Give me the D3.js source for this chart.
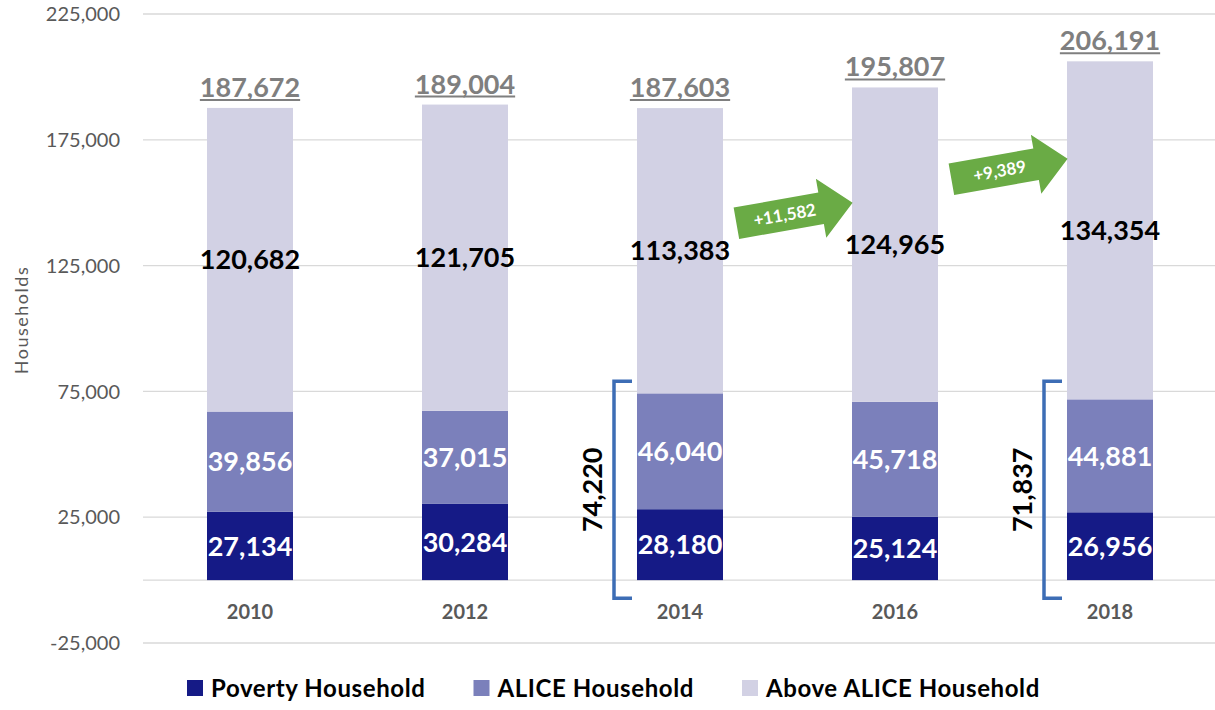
<!DOCTYPE html>
<html>
<head>
<meta charset="utf-8">
<script src="https://cdn.jsdelivr.net/npm/d3@7"></script>
<style>
  html, body { margin: 0; padding: 0; background: #fff; }
  svg { display: block; font-family: Lato, "Open Sans", sans-serif; }
</style>
</head>
<body>
<svg id="chart" width="1215" height="710"></svg>
<script>
// households by year, stacked
const years = ["2010", "2012", "2014", "2016", "2018"];
const poverty = [27134, 30284, 28180, 25124, 26956];
const alice = [39856, 37015, 46040, 45718, 44881];
const aboveAlice = [120682, 121705, 113383, 124965, 134354];
const seriesNames = ["Poverty Household", "ALICE Household", "Above ALICE Household"];
const yTicks = [-25000, 25000, 75000, 125000, 175000, 225000];

// annotations: bracketed years and growth arrows (from -> to)
const bracketYears = ["2014", "2018"];
const arrowPairs = [["2014", "2016"], ["2016", "2018"]];

const COLORS = ["#151a86", "#7b80bb", "#d2d1e4"];
const fmt = v => d3.format(",")(v).replace("\u2212", "-");

const W = 1215, H = 710;
const svg = d3.select("#chart");

const x = d3.scaleBand()
  .domain(years)
  .range([142.5, 1217.5])
  .paddingInner(0.6)
  .paddingOuter(0.3);

const y = d3.scaleLinear()
  .domain([-25000, 225000])
  .range([643, 14]);

const rows = years.map((yr, i) => ({
  year: yr,
  p: poverty[i],
  a: alice[i],
  ab: aboveAlice[i],
  total: poverty[i] + alice[i] + aboveAlice[i]
}));

// gridlines
const grid = svg.append("g");
grid.selectAll("line")
  .data(yTicks.concat([0]))
  .join("line")
  .attr("x1", 143)
  .attr("x2", W)
  .attr("y1", d => y(d))
  .attr("y2", d => y(d))
  .attr("stroke", "#d9d9d9")
  .attr("stroke-width", 1.3);

// y axis labels
svg.append("g")
  .selectAll("text")
  .data(yTicks)
  .join("text")
  .attr("x", 120)
  .attr("y", d => y(d))
  .attr("dy", "0.36em")
  .attr("text-anchor", "end")
  .attr("fill", "#595959")
  .attr("font-size", 20)
  .text(d => fmt(d));

svg.append("text")
  .attr("transform", "translate(22,320) rotate(-90)")
  .attr("text-anchor", "middle")
  .attr("dy", "0.35em")
  .attr("fill", "#595959")
  .attr("font-size", 18)
  .attr("letter-spacing", 1.5)
  .text("Households");

// stacked bars
const stack = d3.stack().keys(["p", "a", "ab"])(rows);

const layers = svg.append("g")
  .selectAll("g")
  .data(stack)
  .join("g")
  .attr("fill", (d, i) => COLORS[i]);

layers.selectAll("rect")
  .data(d => d)
  .join("rect")
  .attr("x", d => x(d.data.year))
  .attr("width", x.bandwidth())
  .attr("y", d => y(d[1]))
  .attr("height", d => y(d[0]) - y(d[1]));

// segment labels
const labelColors = ["#ffffff", "#ffffff", "#000000"];
layers.each(function (layer, li) {
  d3.select(this).selectAll("text")
    .data(layer)
    .join("text")
    .attr("x", d => x(d.data.year) + x.bandwidth() / 2)
    .attr("y", d => y((d[0] + d[1]) / 2))
    .attr("dy", "0.36em")
    .attr("text-anchor", "middle")
    .attr("font-weight", "bold")
    .attr("font-size", 27)
    .attr("fill", labelColors[li])
    .text(d => fmt(d[1] - d[0]));
});

// totals, underlined
const totals = svg.append("g")
  .selectAll("g")
  .data(rows)
  .join("g")
  .attr("transform", d => `translate(${x(d.year) + x.bandwidth() / 2},${y(d.total) - 11})`);

totals.append("text")
  .attr("text-anchor", "middle")
  .attr("font-weight", "bold")
  .attr("font-size", 27)
  .attr("fill", "#7f7f7f")
  .text(d => fmt(d.total));

totals.each(function () {
  const t = d3.select(this).select("text").node();
  const w = t.getComputedTextLength();
  d3.select(this).append("line")
    .attr("x1", -w / 2)
    .attr("x2", w / 2)
    .attr("y1", 3)
    .attr("y2", 3)
    .attr("stroke", "#7f7f7f")
    .attr("stroke-width", 2);
});

// x axis labels
svg.append("g")
  .selectAll("text")
  .data(years)
  .join("text")
  .attr("x", d => x(d) + x.bandwidth() / 2)
  .attr("y", 612)
  .attr("dy", "0.36em")
  .attr("text-anchor", "middle")
  .attr("font-weight", "bold")
  .attr("font-size", 20)
  .attr("fill", "#595959")
  .text(d => d);

// brackets around poverty + ALICE
const bTop = y(79000), bBot = y(-7200);
bracketYears.forEach(yr => {
  const r = rows.find(d => d.year === yr);
  const bx = x(yr) - 23;
  svg.append("path")
    .attr("d", `M${bx + 18},${bTop} H${bx} V${bBot} H${bx + 18}`)
    .attr("fill", "none")
    .attr("stroke", "#3d6db5")
    .attr("stroke-width", 3.5);
  svg.append("text")
    .attr("transform", `translate(${bx - 22},${(bTop + bBot) / 2}) rotate(-90)`)
    .attr("text-anchor", "middle")
    .attr("dy", "0.36em")
    .attr("font-weight", "bold")
    .attr("font-size", 27)
    .attr("fill", "#000")
    .text(fmt(r.p + r.a));
});

// growth arrows for Above ALICE households
const arrowY = [213, 169];
const AL = 118, BH = 32, HH = 60, HL = 32;
arrowPairs.forEach(([from, to], i) => {
  const a = rows.find(d => d.year === from);
  const b = rows.find(d => d.year === to);
  const gapMid = (x(from) + x.bandwidth() + x(to)) / 2 + 7;
  const g = svg.append("g")
    .attr("transform", `translate(${gapMid},${arrowY[i]}) rotate(-10)`);
  const x0 = -AL / 2, xh = AL / 2 - HL, x1 = AL / 2;
  g.append("path")
    .attr("d", `M${x0},${-BH / 2} H${xh} V${-HH / 2} L${x1},0 L${xh},${HH / 2} V${BH / 2} H${x0} Z`)
    .attr("fill", "#6aab45");
  g.append("text")
    .attr("x", -10)
    .attr("y", 0)
    .attr("dy", "0.36em")
    .attr("text-anchor", "middle")
    .attr("font-weight", "bold")
    .attr("font-size", 17)
    .attr("fill", "#ffffff")
    .text("+" + fmt(b.ab - a.ab));
});

// legend
const legend = svg.append("g").attr("transform", "translate(187,688)");
let lx = 0;
seriesNames.forEach((name, i) => {
  const item = legend.append("g").attr("transform", `translate(${lx},0)`);
  item.append("rect")
    .attr("x", 0).attr("y", -8)
    .attr("width", 16).attr("height", 16)
    .attr("fill", COLORS[i]);
  const t = item.append("text")
    .attr("x", 24)
    .attr("dy", "0.36em")
    .attr("font-size", 24)
    .attr("font-weight", "bold")
    .attr("letter-spacing", 0.6)
    .attr("fill", "#000")
    .text(name);
  lx += 24 + t.node().getComputedTextLength() + 48;
});
</script>
</body>
</html>
